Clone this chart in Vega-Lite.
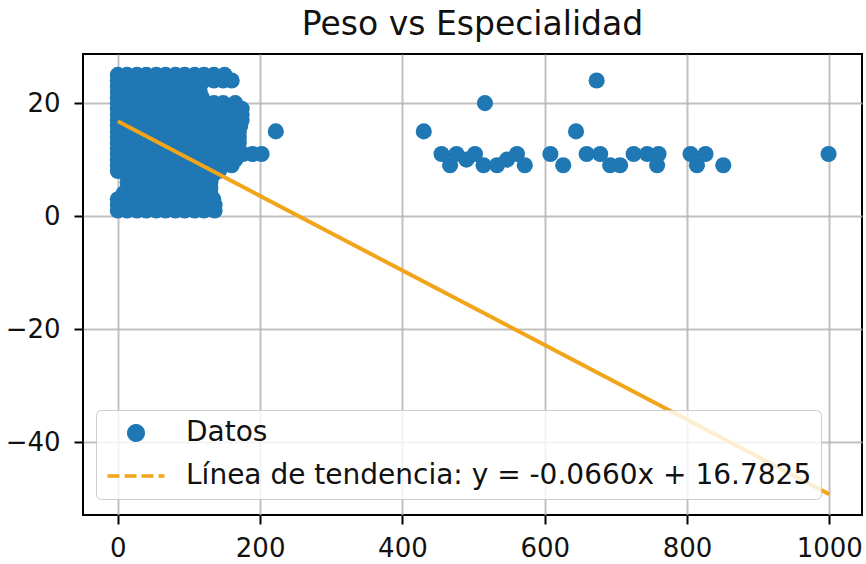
{
  "$schema": "https://vega.github.io/schema/vega-lite/v6.json",
  "width": 779,
  "height": 461,
  "autosize": "none",
  "padding": {"left": 83, "top": 54, "right": 4, "bottom": 49},
  "background": "white",
  "title": {
    "text": "Peso vs Especialidad",
    "font": "DejaVu Sans",
    "fontSize": 33,
    "fontWeight": "normal",
    "color": "#111111",
    "anchor": "middle",
    "baseline": "alphabetic",
    "offset": -14
  },
  "config": {
    "view": {"stroke": "#000000", "strokeWidth": 2},
    "axis": {
      "domain": false,
      "grid": true,
      "gridColor": "#b0b0b0",
      "gridWidth": 2,
      "gridOpacity": 0.8,
      "ticks": true,
      "tickColor": "#000000",
      "tickWidth": 2,
      "tickSize": 9,
      "labelFont": "DejaVu Sans",
      "labelFontSize": 26,
      "labelColor": "#111111",
      "title": null,
      "zindex": 1
    },
    "legend": {
      "orient": "none",
      "legendX": 13,
      "legendY": 356,
      "title": null,
      "labelFont": "DejaVu Sans",
      "labelFontSize": 28,
      "labelColor": "#111111",
      "labelLimit": 0,
      "labelOffset": 36,
      "symbolOffset": 17,
      "symbolSize": 210,
      "symbolStrokeWidth": 3.5,
      "padding": 9,
      "rowPadding": 14,
      "fillColor": "rgba(255,255,255,0.8)",
      "strokeColor": "#cccccc",
      "cornerRadius": 5
    }
  },
  "datasets": {
    "puntos": [
      {"peso":0,"especialidad":25},{"peso":13,"especialidad":25},{"peso":27,"especialidad":25},{"peso":40,"especialidad":25},{"peso":54,"especialidad":25},{"peso":67,"especialidad":25},{"peso":81,"especialidad":25},{"peso":94,"especialidad":25},{"peso":108,"especialidad":25},{"peso":121,"especialidad":25},{"peso":135,"especialidad":25},{"peso":150,"especialidad":25},
      {"peso":0,"especialidad":24},{"peso":13,"especialidad":24},{"peso":27,"especialidad":24},{"peso":40,"especialidad":24},{"peso":54,"especialidad":24},{"peso":67,"especialidad":24},{"peso":81,"especialidad":24},{"peso":94,"especialidad":24},{"peso":108,"especialidad":24},{"peso":121,"especialidad":24},{"peso":135,"especialidad":24},{"peso":148,"especialidad":24},{"peso":160,"especialidad":24},
      {"peso":0,"especialidad":23},{"peso":13,"especialidad":23},{"peso":27,"especialidad":23},{"peso":40,"especialidad":23},{"peso":54,"especialidad":23},{"peso":67,"especialidad":23},{"peso":81,"especialidad":23},{"peso":94,"especialidad":23},{"peso":108,"especialidad":23},{"peso":115,"especialidad":23},
      {"peso":0,"especialidad":22},{"peso":13,"especialidad":22},{"peso":27,"especialidad":22},{"peso":40,"especialidad":22},{"peso":54,"especialidad":22},{"peso":67,"especialidad":22},{"peso":81,"especialidad":22},{"peso":94,"especialidad":22},{"peso":108,"especialidad":22},{"peso":115,"especialidad":22},
      {"peso":0,"especialidad":21},{"peso":13,"especialidad":21},{"peso":27,"especialidad":21},{"peso":40,"especialidad":21},{"peso":54,"especialidad":21},{"peso":67,"especialidad":21},{"peso":81,"especialidad":21},{"peso":94,"especialidad":21},{"peso":108,"especialidad":21},{"peso":118,"especialidad":21},
      {"peso":0,"especialidad":20},{"peso":13,"especialidad":20},{"peso":27,"especialidad":20},{"peso":40,"especialidad":20},{"peso":54,"especialidad":20},{"peso":67,"especialidad":20},{"peso":81,"especialidad":20},{"peso":94,"especialidad":20},{"peso":108,"especialidad":20},{"peso":121,"especialidad":20},{"peso":135,"especialidad":20},{"peso":148,"especialidad":20},{"peso":165,"especialidad":20},
      {"peso":0,"especialidad":19},{"peso":13,"especialidad":19},{"peso":27,"especialidad":19},{"peso":40,"especialidad":19},{"peso":54,"especialidad":19},{"peso":67,"especialidad":19},{"peso":81,"especialidad":19},{"peso":94,"especialidad":19},{"peso":108,"especialidad":19},{"peso":121,"especialidad":19},{"peso":135,"especialidad":19},{"peso":148,"especialidad":19},{"peso":162,"especialidad":19},{"peso":174,"especialidad":19},
      {"peso":0,"especialidad":18},{"peso":13,"especialidad":18},{"peso":27,"especialidad":18},{"peso":40,"especialidad":18},{"peso":54,"especialidad":18},{"peso":67,"especialidad":18},{"peso":81,"especialidad":18},{"peso":94,"especialidad":18},{"peso":108,"especialidad":18},{"peso":121,"especialidad":18},{"peso":135,"especialidad":18},{"peso":148,"especialidad":18},{"peso":162,"especialidad":18},{"peso":174,"especialidad":18},
      {"peso":0,"especialidad":17},{"peso":13,"especialidad":17},{"peso":27,"especialidad":17},{"peso":40,"especialidad":17},{"peso":54,"especialidad":17},{"peso":67,"especialidad":17},{"peso":81,"especialidad":17},{"peso":94,"especialidad":17},{"peso":108,"especialidad":17},{"peso":121,"especialidad":17},{"peso":135,"especialidad":17},{"peso":148,"especialidad":17},{"peso":162,"especialidad":17},{"peso":174,"especialidad":17},
      {"peso":0,"especialidad":16},{"peso":13,"especialidad":16},{"peso":27,"especialidad":16},{"peso":40,"especialidad":16},{"peso":54,"especialidad":16},{"peso":67,"especialidad":16},{"peso":81,"especialidad":16},{"peso":94,"especialidad":16},{"peso":108,"especialidad":16},{"peso":121,"especialidad":16},{"peso":135,"especialidad":16},{"peso":148,"especialidad":16},{"peso":162,"especialidad":16},{"peso":172,"especialidad":16},
      {"peso":0,"especialidad":15},{"peso":13,"especialidad":15},{"peso":27,"especialidad":15},{"peso":40,"especialidad":15},{"peso":54,"especialidad":15},{"peso":67,"especialidad":15},{"peso":81,"especialidad":15},{"peso":94,"especialidad":15},{"peso":108,"especialidad":15},{"peso":121,"especialidad":15},{"peso":135,"especialidad":15},{"peso":148,"especialidad":15},{"peso":162,"especialidad":15},{"peso":170,"especialidad":15},
      {"peso":0,"especialidad":14},{"peso":13,"especialidad":14},{"peso":27,"especialidad":14},{"peso":40,"especialidad":14},{"peso":54,"especialidad":14},{"peso":67,"especialidad":14},{"peso":81,"especialidad":14},{"peso":94,"especialidad":14},{"peso":108,"especialidad":14},{"peso":121,"especialidad":14},{"peso":135,"especialidad":14},{"peso":148,"especialidad":14},{"peso":162,"especialidad":14},{"peso":170,"especialidad":14},
      {"peso":0,"especialidad":13},{"peso":13,"especialidad":13},{"peso":27,"especialidad":13},{"peso":40,"especialidad":13},{"peso":54,"especialidad":13},{"peso":67,"especialidad":13},{"peso":81,"especialidad":13},{"peso":94,"especialidad":13},{"peso":108,"especialidad":13},{"peso":121,"especialidad":13},{"peso":135,"especialidad":13},{"peso":148,"especialidad":13},{"peso":162,"especialidad":13},{"peso":170,"especialidad":13},
      {"peso":0,"especialidad":12},{"peso":13,"especialidad":12},{"peso":27,"especialidad":12},{"peso":40,"especialidad":12},{"peso":54,"especialidad":12},{"peso":67,"especialidad":12},{"peso":81,"especialidad":12},{"peso":94,"especialidad":12},{"peso":108,"especialidad":12},{"peso":121,"especialidad":12},{"peso":135,"especialidad":12},{"peso":148,"especialidad":12},{"peso":162,"especialidad":12},{"peso":168,"especialidad":12},
      {"peso":0,"especialidad":11},{"peso":13,"especialidad":11},{"peso":27,"especialidad":11},{"peso":40,"especialidad":11},{"peso":54,"especialidad":11},{"peso":67,"especialidad":11},{"peso":81,"especialidad":11},{"peso":94,"especialidad":11},{"peso":108,"especialidad":11},{"peso":121,"especialidad":11},{"peso":135,"especialidad":11},{"peso":148,"especialidad":11},{"peso":162,"especialidad":11},{"peso":176,"especialidad":11},{"peso":189,"especialidad":11},{"peso":202,"especialidad":11},
      {"peso":0,"especialidad":10},{"peso":13,"especialidad":10},{"peso":27,"especialidad":10},{"peso":40,"especialidad":10},{"peso":54,"especialidad":10},{"peso":67,"especialidad":10},{"peso":81,"especialidad":10},{"peso":94,"especialidad":10},{"peso":108,"especialidad":10},{"peso":121,"especialidad":10},{"peso":135,"especialidad":10},{"peso":148,"especialidad":10},{"peso":165,"especialidad":10},
      {"peso":0,"especialidad":9},{"peso":13,"especialidad":9},{"peso":27,"especialidad":9},{"peso":40,"especialidad":9},{"peso":54,"especialidad":9},{"peso":67,"especialidad":9},{"peso":81,"especialidad":9},{"peso":94,"especialidad":9},{"peso":108,"especialidad":9},{"peso":121,"especialidad":9},{"peso":135,"especialidad":9},{"peso":148,"especialidad":9},{"peso":160,"especialidad":9},
      {"peso":0,"especialidad":8},{"peso":13,"especialidad":8},{"peso":27,"especialidad":8},{"peso":40,"especialidad":8},{"peso":54,"especialidad":8},{"peso":67,"especialidad":8},{"peso":81,"especialidad":8},{"peso":94,"especialidad":8},{"peso":108,"especialidad":8},{"peso":121,"especialidad":8},{"peso":135,"especialidad":8},{"peso":142,"especialidad":8},
      {"peso":14,"especialidad":7},{"peso":27,"especialidad":7},{"peso":40,"especialidad":7},{"peso":54,"especialidad":7},{"peso":67,"especialidad":7},{"peso":81,"especialidad":7},{"peso":94,"especialidad":7},{"peso":108,"especialidad":7},{"peso":121,"especialidad":7},{"peso":132,"especialidad":7},
      {"peso":14,"especialidad":6},{"peso":27,"especialidad":6},{"peso":40,"especialidad":6},{"peso":54,"especialidad":6},{"peso":67,"especialidad":6},{"peso":81,"especialidad":6},{"peso":94,"especialidad":6},{"peso":108,"especialidad":6},{"peso":121,"especialidad":6},{"peso":130,"especialidad":6},
      {"peso":14,"especialidad":5},{"peso":27,"especialidad":5},{"peso":40,"especialidad":5},{"peso":54,"especialidad":5},{"peso":67,"especialidad":5},{"peso":81,"especialidad":5},{"peso":94,"especialidad":5},{"peso":108,"especialidad":5},{"peso":121,"especialidad":5},{"peso":130,"especialidad":5},
      {"peso":8,"especialidad":4},{"peso":21,"especialidad":4},{"peso":34,"especialidad":4},{"peso":47,"especialidad":4},{"peso":60,"especialidad":4},{"peso":73,"especialidad":4},{"peso":86,"especialidad":4},{"peso":99,"especialidad":4},{"peso":112,"especialidad":4},{"peso":124,"especialidad":4},{"peso":130,"especialidad":4},
      {"peso":0,"especialidad":3},{"peso":13,"especialidad":3},{"peso":27,"especialidad":3},{"peso":40,"especialidad":3},{"peso":54,"especialidad":3},{"peso":67,"especialidad":3},{"peso":81,"especialidad":3},{"peso":94,"especialidad":3},{"peso":108,"especialidad":3},{"peso":121,"especialidad":3},{"peso":134,"especialidad":3},
      {"peso":0,"especialidad":2},{"peso":13,"especialidad":2},{"peso":27,"especialidad":2},{"peso":40,"especialidad":2},{"peso":54,"especialidad":2},{"peso":67,"especialidad":2},{"peso":81,"especialidad":2},{"peso":94,"especialidad":2},{"peso":108,"especialidad":2},{"peso":121,"especialidad":2},{"peso":136,"especialidad":2},
      {"peso":0,"especialidad":1},{"peso":13,"especialidad":1},{"peso":27,"especialidad":1},{"peso":40,"especialidad":1},{"peso":54,"especialidad":1},{"peso":67,"especialidad":1},{"peso":81,"especialidad":1},{"peso":94,"especialidad":1},{"peso":108,"especialidad":1},{"peso":121,"especialidad":1},{"peso":136,"especialidad":1},
      {"peso":222,"especialidad":15},
      {"peso":430,"especialidad":15},{"peso":455,"especialidad":11},{"peso":467,"especialidad":9},{"peso":476,"especialidad":11},{"peso":490,"especialidad":10},{"peso":502,"especialidad":11},{"peso":514,"especialidad":9},{"peso":516,"especialidad":20},{"peso":533,"especialidad":9},{"peso":547,"especialidad":10},{"peso":561,"especialidad":11},{"peso":572,"especialidad":9},{"peso":608,"especialidad":11},{"peso":626,"especialidad":9},{"peso":644,"especialidad":15},{"peso":659,"especialidad":11},{"peso":673,"especialidad":24},{"peso":678,"especialidad":11},{"peso":692,"especialidad":9},{"peso":706,"especialidad":9},{"peso":725,"especialidad":11},{"peso":744,"especialidad":11},{"peso":758,"especialidad":9},{"peso":760,"especialidad":11},{"peso":805,"especialidad":11},{"peso":814,"especialidad":9},{"peso":826,"especialidad":11},{"peso":851,"especialidad":9},{"peso":999,"especialidad":11}
    ],
    "tendencia": [
      {"peso": 0, "especialidad": 16.7825},
      {"peso": 1000, "especialidad": -49.2175}
    ]
  },
  "encoding": {
    "x": {
      "field": "peso",
      "type": "quantitative",
      "scale": {"domain": [-49, 1046], "nice": false, "zero": false},
      "axis": {"values": [0, 200, 400, 600, 800, 1000], "format": "d", "labelPadding": 11}
    },
    "y": {
      "field": "especialidad",
      "type": "quantitative",
      "scale": {"domain": [-52.9, 28.7], "nice": false, "zero": false},
      "axis": {"values": [-40, -20, 0, 20], "labelPadding": 14}
    }
  },
  "layer": [
    {
      "data": {"name": "puntos"},
      "mark": {"type": "point", "filled": true, "opacity": 1, "size": 260},
      "encoding": {
        "color": {
          "datum": "Datos",
          "type": "nominal",
          "scale": {
            "domain": ["Datos", "Línea de tendencia: y = -0.0660x + 16.7825"],
            "range": ["#1f77b4", "#f2a51a"]
          }
        },
        "shape": {
          "datum": "Datos",
          "type": "nominal",
          "scale": {
            "domain": ["Datos", "Línea de tendencia: y = -0.0660x + 16.7825"],
            "range": ["circle", "M-3.93,0L3.93,0"]
          }
        },
        "strokeDash": {
          "datum": "Datos",
          "type": "nominal",
          "scale": {
            "domain": ["Datos", "Línea de tendencia: y = -0.0660x + 16.7825"],
            "range": [[1, 0], [12, 5]]
          }
        }
      }
    },
    {
      "data": {"name": "tendencia"},
      "mark": {"type": "line", "strokeWidth": 4},
      "encoding": {
        "color": {"datum": "Línea de tendencia: y = -0.0660x + 16.7825", "type": "nominal"}
      }
    }
  ]
}
